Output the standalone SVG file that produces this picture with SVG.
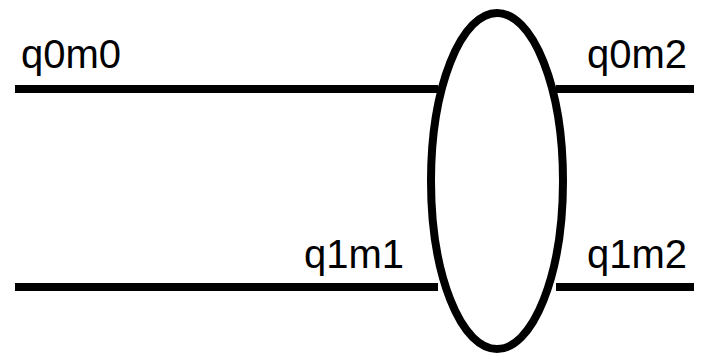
<svg xmlns="http://www.w3.org/2000/svg" width="705" height="358" viewBox="0 0 705 358">
<style>
.w{stroke:#000;stroke-width:8;fill:none}
.t{font-family:"Liberation Sans",Arial,sans-serif;font-size:40px;fill:#000}
</style>
<rect width="705" height="358" fill="#fff"/>
<g id="connectors">
<line class="w" x1="15" y1="89" x2="438" y2="89"/>
<line class="w" x1="556" y1="89" x2="694" y2="89"/>
<line class="w" x1="15" y1="287" x2="438" y2="287"/>
<line class="w" x1="556" y1="287" x2="694" y2="287"/>
</g>
<g id="gate">
<ellipse class="w" cx="497" cy="181" rx="66" ry="168" fill="#fff"/>
</g>
<g id="labels">
<text class="t" x="21" y="68">q0m0</text>
<text class="t" x="587" y="68">q0m2</text>
<text class="t" x="304" y="268">q1m1</text>
<text class="t" x="587" y="268">q1m2</text>
</g>
</svg>
